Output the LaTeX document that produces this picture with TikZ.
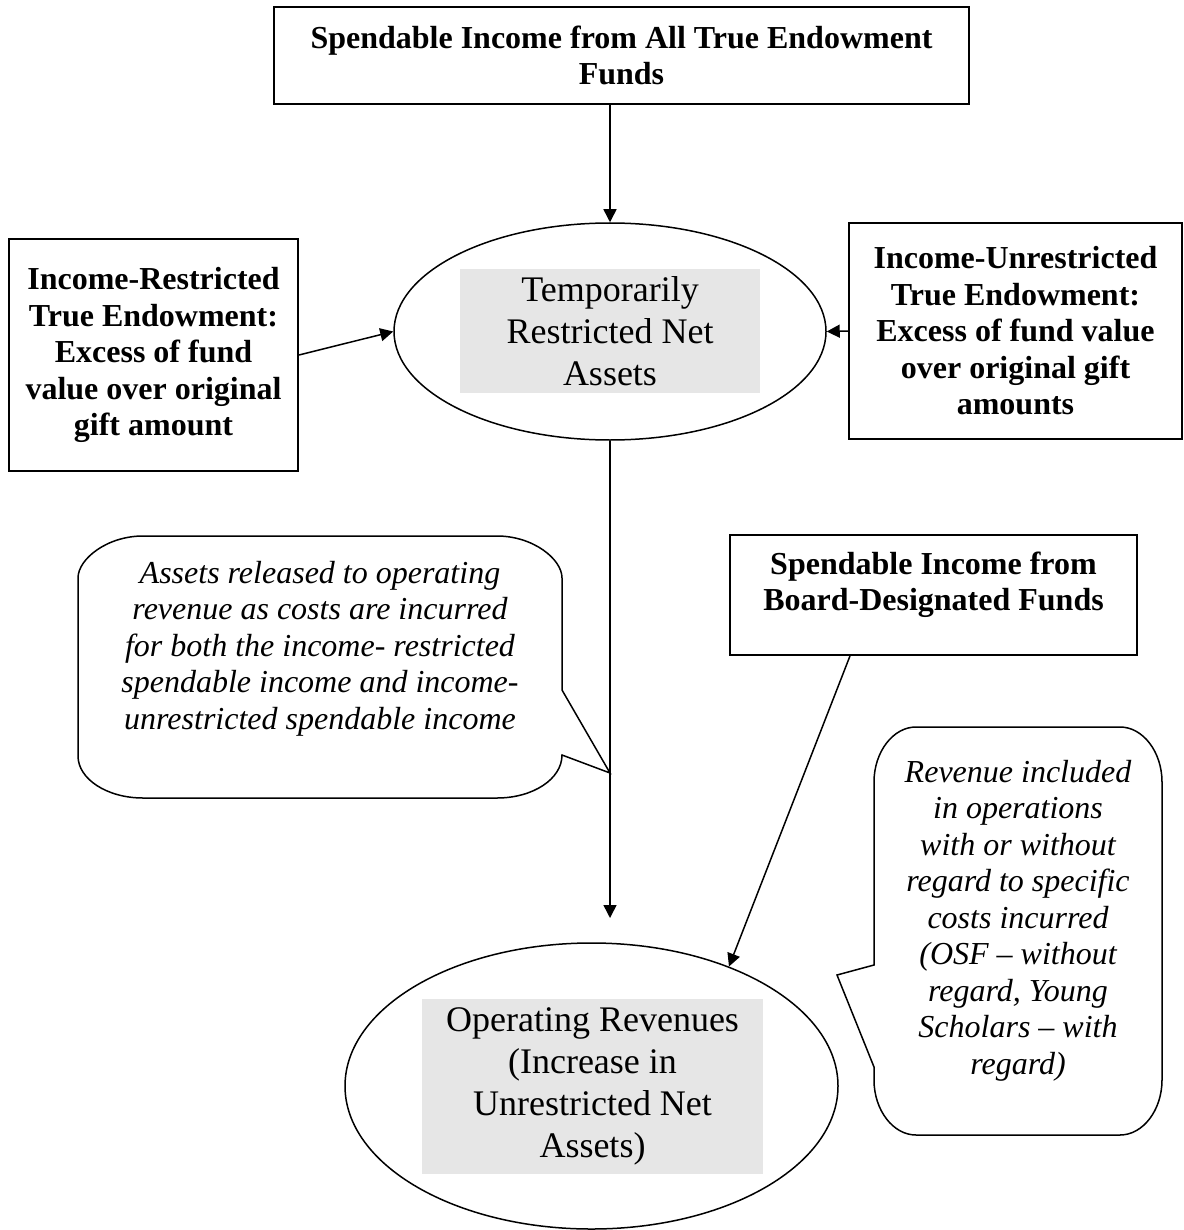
\documentclass[tikz,border=0pt]{standalone}
\usepackage{fontspec}
\setmainfont{Liberation Serif}
\usetikzlibrary{arrows.meta, shapes.geometric}
\definecolor{assetgray}{RGB}{230,230,230}

\begin{document}
\begin{tikzpicture}[
    x=0.5pt, y=-0.5pt,
    fund/.style={draw, line width=0.9pt, align=center, inner sep=0pt, font=\fontsize{16}{18.25}\selectfont\bfseries},
    pool/.style={draw, ellipse, line width=0.75pt, inner sep=0pt},
    pooltxt/.style={fill=assetgray, align=center, inner sep=0pt, font=\fontsize{18}{21}\selectfont},
    note/.style={align=center, font=\fontsize{16}{18.25}\selectfont\itshape},
    callout/.style={draw, line width=0.75pt},
    arr/.style={-{Triangle[length=6.5pt, width=6.5pt]}, line width=0.75pt}
  ]
  \useasboundingbox (0,0) rectangle (1183,1230);

  % fund boxes
  \node[fund, minimum width=347.5pt, minimum height=48.5pt] (allfunds) at (621.5,55.5) {Spendable Income from All True Endowment\\Funds};
  \node[fund, minimum width=144.5pt, minimum height=116pt] (restr) at (153.5,355) {Income-Restricted\\True Endowment:\\Excess of fund\\value over original\\gift amount};
  \node[fund, minimum width=166.5pt, minimum height=108pt] (unrestr) at (1015.5,331) {Income-Unrestricted\\True Endowment:\\Excess of fund value\\over original gift\\amounts};
  \node[fund, minimum width=203.5pt, minimum height=60pt] (board) at (933.5,595) {};
  \node[fund, draw=none] (boardtxt) at (933.5,585) {Spendable Income from\\Board-Designated Funds};

  % net asset pools
  \node[pool, minimum width=216pt, minimum height=108.5pt] (temp) at (610,331.5) {};
  \node[pooltxt, minimum width=150pt, minimum height=62pt] (temptxt) at (610,331) {Temporarily\\Restricted Net\\Assets};
  \node[pool, minimum width=246.5pt, minimum height=143pt] (oper) at (591.5,1086) {};
  \node[pooltxt, minimum width=170.5pt, minimum height=87.5pt] (opertxt) at (592.5,1086.5) {Operating Revenues\\(Increase in\\Unrestricted Net\\Assets)};

  % callouts
  \coordinate (reltip) at (610,773);
  \coordinate (revtip) at (837,975);
  \draw[callout] (143,536) -- (497,536) .. controls (533,536) and (562,559) .. (562,578)
    -- (562,690) -- (reltip) -- (562,755) .. controls (562,779) and (533,798) .. (497,798)
    -- (143,798) .. controls (107,798) and (78,779) .. (78,756)
    -- (78,578) .. controls (78,559) and (107,536) .. (143,536) -- cycle;
  \draw[callout] (916,727) -- (1120,727) .. controls (1143,727) and (1162,752) .. (1162,782)
    -- (1162,1080) .. controls (1162,1110) and (1143,1135) .. (1120,1135)
    -- (916,1135) .. controls (893,1135) and (874,1110) .. (874,1080)
    -- (874,1067) -- (revtip) -- (874,965)
    -- (874,782) .. controls (874,752) and (893,727) .. (916,727) -- cycle;
  \node[note] (relnote) at (320,648.5) {Assets released to operating\\revenue as costs are incurred\\for both the income- restricted\\spendable income and income-\\unrestricted spendable income};
  \node[note] (revnote) at (1018,920.5) {Revenue included\\in operations\\with or without\\regard to specific\\costs incurred\\(OSF -- without\\regard, Young\\Scholars -- with\\regard)};

  % flows
  \coordinate (downtip) at (610,918);
  \draw[arr] (temp.north |- allfunds.south) -- (temp.north);
  \draw[arr] (restr.east) -- (temp.west);
  \draw[arr] (unrestr.west) -- (temp.east);
  \draw[arr] (temp.south) -- (downtip);
  \draw[arr] ([xshift=-41.75pt]board.south) -- (oper.41);
\end{tikzpicture}
\end{document}
